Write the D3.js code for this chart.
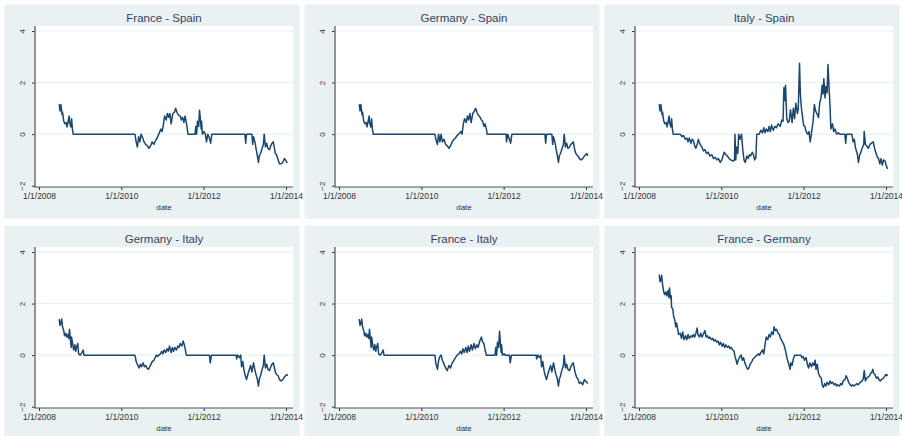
<!DOCTYPE html>
<html><head><meta charset="utf-8">
<script src="https://cdn.jsdelivr.net/npm/d3@7"></script>
<style>body{margin:0;background:#fff}svg{display:block}</style>
</head><body>
<svg id="chart" width="902" height="436"></svg>
<script>
// Panel titles, in drawing order (row by row)
const titles = ["France - Spain", "Germany - Spain", "Italy - Spain",
                "Germany - Italy", "France - Italy", "France - Germany"];

// Axis ticks
const yTicks = [-2, 0, 2, 4];
const xTickYears = [2008, 2010, 2012, 2014];
const gridValues = [0, 2, 4];

// Series: [decimal year, value]
const frSp = [[2008.49,1.16],[2008.51,0.90],[2008.53,1.15],[2008.56,0.75],[2008.57,0.85],[2008.60,0.50],[2008.63,0.40],[2008.66,0.45],[2008.68,0.28],[2008.70,0.45],[2008.73,0.70],[2008.74,0.45],[2008.77,0.28],[2008.79,0.60],[2008.81,0.20],[2008.83,0.00],
  [2010.33,0.00],[2010.36,-0.30],[2010.39,-0.50],[2010.42,-0.10],[2010.45,-0.30],[2010.48,0.00],[2010.51,-0.10],[2010.55,-0.30],[2010.59,-0.40],[2010.63,-0.45],[2010.67,-0.55],[2010.71,-0.45],[2010.75,-0.30],[2010.79,-0.40],[2010.83,-0.25],[2010.87,-0.15],[2010.91,0.00],[2010.96,0.20],[2010.99,0.10],[2011.02,0.35],[2011.05,0.70],[2011.09,0.55],[2011.12,0.80],[2011.15,0.65],[2011.18,0.80],[2011.21,0.40],[2011.25,0.80],[2011.29,0.85],[2011.32,1.00],[2011.35,0.85],[2011.38,0.75],[2011.43,0.70],[2011.46,0.55],[2011.49,0.65],[2011.52,0.45],[2011.55,0.70],[2011.59,0.35],[2011.62,0.00],
  [2011.79,0.00],[2011.81,0.30],[2011.83,0.00],[2011.85,0.50],[2011.88,0.30],[2011.90,0.93],[2011.92,0.60],[2011.94,0.20],[2011.95,0.50],[2011.97,0.00],[2012.01,0.10],[2012.04,0.00],[2012.07,-0.30],[2012.10,0.00],[2012.13,-0.10],[2012.17,-0.35],[2012.20,0.00],
  [2013.00,0.00],[2013.02,-0.35],[2013.04,0.00],[2013.17,0.00],[2013.19,-0.40],[2013.21,-0.10],[2013.25,-0.35],[2013.27,-0.55],[2013.30,-0.80],[2013.33,-1.10],[2013.35,-0.85],[2013.38,-0.75],[2013.42,-0.55],[2013.45,-0.40],[2013.47,0.00],[2013.50,-0.50],[2013.53,-0.35],[2013.56,-0.55],[2013.60,-0.60],[2013.63,-0.45],[2013.66,-0.35],[2013.69,-0.30],[2013.72,-0.55],[2013.74,-0.75],[2013.77,-0.80],[2013.81,-1.00],[2013.84,-1.15],[2013.88,-1.15],[2013.92,-1.10],[2013.96,-0.95],[2013.99,-1.00],[2014.02,-1.10],[2014.04,-1.10]];

const deSp = [[2008.49,1.16],[2008.51,0.90],[2008.53,1.15],[2008.56,0.75],[2008.57,0.85],[2008.60,0.50],[2008.63,0.40],[2008.66,0.45],[2008.68,0.28],[2008.70,0.45],[2008.73,0.70],[2008.74,0.45],[2008.77,0.28],[2008.79,0.60],[2008.81,0.20],[2008.83,0.00],
  [2010.33,0.00],[2010.36,-0.25],[2010.39,-0.40],[2010.42,0.00],[2010.45,-0.30],[2010.48,0.00],[2010.51,-0.30],[2010.55,-0.20],[2010.59,-0.40],[2010.63,-0.45],[2010.67,-0.55],[2010.71,-0.45],[2010.75,-0.30],[2010.79,-0.20],[2010.83,-0.15],[2010.87,-0.05],[2010.91,0.00],[2010.96,0.10],[2010.99,0.00],[2011.02,0.40],[2011.05,0.60],[2011.09,0.45],[2011.12,0.70],[2011.15,0.55],[2011.18,0.80],[2011.21,0.45],[2011.25,0.80],[2011.29,0.90],[2011.32,1.00],[2011.35,0.85],[2011.38,0.75],[2011.43,0.65],[2011.46,0.55],[2011.49,0.50],[2011.52,0.30],[2011.55,0.40],[2011.58,0.20],[2011.60,0.00],
  [2012.06,0.00],[2012.07,-0.30],[2012.10,0.00],[2012.13,-0.15],[2012.17,-0.35],[2012.20,0.00],
  [2013.00,0.00],[2013.02,-0.35],[2013.04,0.00],[2013.17,0.00],[2013.19,-0.40],[2013.21,-0.10],[2013.25,-0.35],[2013.27,-0.55],[2013.30,-0.80],[2013.33,-1.10],[2013.35,-0.85],[2013.38,-0.75],[2013.42,-0.55],[2013.45,-0.40],[2013.47,0.00],[2013.50,-0.50],[2013.53,-0.35],[2013.56,-0.55],[2013.60,-0.50],[2013.63,-0.40],[2013.66,-0.35],[2013.69,-0.30],[2013.72,-0.55],[2013.74,-0.70],[2013.77,-0.80],[2013.81,-0.85],[2013.84,-0.95],[2013.88,-1.00],[2013.92,-0.95],[2013.96,-0.85],[2013.99,-0.80],[2014.02,-0.75],[2014.04,-0.85]];

const itSp = [[2008.49,1.16],[2008.51,0.90],[2008.53,1.15],[2008.56,0.75],[2008.57,0.85],[2008.60,0.50],[2008.63,0.40],[2008.66,0.45],[2008.68,0.28],[2008.70,0.45],[2008.73,0.70],[2008.74,0.45],[2008.77,0.28],[2008.79,0.60],[2008.81,0.20],[2008.83,0.00],
  [2009.00,0.00],[2009.04,-0.10],[2009.08,-0.05],[2009.12,-0.20],[2009.16,-0.15],[2009.19,-0.30],[2009.22,-0.15],[2009.26,-0.35],[2009.29,-0.20],[2009.32,-0.25],[2009.35,-0.45],[2009.38,-0.55],[2009.42,-0.35],[2009.44,-0.20],[2009.47,-0.35],[2009.50,-0.45],[2009.53,-0.50],[2009.56,-0.65],[2009.60,-0.60],[2009.64,-0.75],[2009.68,-0.70],[2009.72,-0.85],[2009.77,-0.80],[2009.81,-0.95],[2009.85,-0.90],[2009.89,-1.00],[2009.93,-0.95],[2009.97,-1.10],[2010.01,-1.00],[2010.04,-0.85],[2010.07,-0.70],[2010.11,-0.80],[2010.15,-0.85],[2010.19,-0.95],[2010.23,-1.00],[2010.28,-1.05],[2010.32,-1.00],
  [2010.33,0.00],[2010.35,-1.00],[2010.37,-0.50],[2010.40,-0.75],[2010.42,0.00],[2010.45,-0.20],[2010.49,0.00],[2010.52,-0.60],[2010.55,-1.00],[2010.58,-1.10],[2010.62,-0.85],[2010.65,-0.95],[2010.68,-0.80],[2010.71,-0.85],[2010.75,-0.70],[2010.78,-0.80],[2010.81,-1.00],[2010.84,-0.90],[2010.86,0.00],[2010.92,0.00],[2010.96,0.15],[2011.00,0.05],[2011.03,0.25],[2011.06,0.05],[2011.09,0.20],[2011.13,0.10],[2011.16,0.30],[2011.19,0.10],[2011.22,0.35],[2011.26,0.15],[2011.30,0.30],[2011.34,0.25],[2011.38,0.40],[2011.43,0.30],[2011.47,0.55],[2011.50,0.50],
  [2011.52,1.80],[2011.54,1.30],[2011.56,1.90],[2011.59,0.60],[2011.62,0.45],[2011.65,0.50],[2011.68,0.95],[2011.72,0.45],[2011.75,1.00],[2011.78,0.60],[2011.81,1.20],[2011.85,0.80],[2011.87,1.00],[2011.90,2.75],[2011.92,1.60],[2011.94,1.10],[2011.97,0.70],[2012.00,0.35],[2012.03,0.30],[2012.06,0.10],[2012.10,0.00],[2012.13,0.10],[2012.16,-0.30],[2012.19,0.05],[2012.23,0.50],[2012.26,1.15],[2012.29,0.90],[2012.32,0.80],[2012.36,0.65],[2012.39,1.20],[2012.42,1.40],[2012.45,1.90],[2012.47,1.55],[2012.49,2.15],[2012.52,1.40],[2012.54,1.85],[2012.57,1.60],[2012.59,2.70],[2012.62,1.70],[2012.64,1.10],[2012.66,0.20],[2012.70,0.40],[2012.73,0.10],[2012.76,0.20],[2012.80,0.00],[2012.84,0.05],[2012.88,0.00],
  [2013.00,0.00],[2013.02,-0.35],[2013.04,0.00],[2013.17,0.00],[2013.20,-0.30],[2013.23,-0.20],[2013.26,-0.55],[2013.30,-0.75],[2013.33,-1.10],[2013.36,-0.80],[2013.39,-0.70],[2013.43,-0.50],[2013.46,-0.40],[2013.47,0.10],[2013.50,-0.40],[2013.53,-0.45],[2013.57,-0.55],[2013.61,-0.40],[2013.65,-0.35],[2013.69,-0.30],[2013.73,-0.60],[2013.76,-0.75],[2013.79,-0.90],[2013.82,-0.95],[2013.85,-1.15],[2013.88,-0.95],[2013.91,-1.20],[2013.94,-1.00],[2013.98,-1.05],[2014.01,-1.25],[2014.04,-1.35]];

const deIt = [[2008.49,1.40],[2008.51,1.15],[2008.53,1.25],[2008.55,1.40],[2008.57,1.10],[2008.60,0.95],[2008.62,0.75],[2008.65,0.85],[2008.67,0.70],[2008.70,0.80],[2008.72,0.65],[2008.74,1.00],[2008.76,0.60],[2008.78,0.30],[2008.79,0.70],[2008.82,0.40],[2008.84,0.20],[2008.87,0.40],[2008.89,0.15],[2008.91,0.30],[2008.94,0.45],[2008.96,0.05],[2009.00,0.00],[2009.04,0.10],[2009.07,0.20],[2009.09,0.00],
  [2010.33,0.00],[2010.36,-0.25],[2010.40,-0.40],[2010.43,-0.50],[2010.46,-0.35],[2010.49,-0.45],[2010.53,-0.30],[2010.56,-0.45],[2010.59,-0.40],[2010.62,-0.50],[2010.66,-0.55],[2010.69,-0.45],[2010.72,-0.35],[2010.75,-0.25],[2010.79,-0.20],[2010.82,-0.10],[2010.85,0.00],[2010.88,-0.05],[2010.91,0.00],[2010.95,0.05],[2010.98,0.15],[2011.01,0.05],[2011.04,0.20],[2011.08,0.10],[2011.11,0.25],[2011.14,0.15],[2011.17,0.35],[2011.21,0.10],[2011.24,0.30],[2011.27,0.15],[2011.30,0.30],[2011.34,0.20],[2011.37,0.35],[2011.40,0.30],[2011.43,0.45],[2011.47,0.35],[2011.50,0.55],[2011.53,0.40],[2011.55,0.25],[2011.58,0.00],
  [2012.14,0.00],[2012.16,-0.30],[2012.19,0.00],[2012.79,0.00],[2012.80,-0.15],[2012.83,0.00],[2012.87,-0.10],[2012.90,0.00],[2012.92,-0.45],[2012.95,-0.25],[2012.98,-0.60],[2013.01,-0.80],[2013.04,-0.95],[2013.08,-0.70],[2013.11,-0.55],[2013.14,-0.40],[2013.17,-0.65],[2013.21,-0.30],[2013.24,-0.55],[2013.27,-0.75],[2013.30,-0.90],[2013.33,-1.20],[2013.35,-0.95],[2013.38,-0.80],[2013.42,-0.55],[2013.45,-0.40],[2013.47,0.00],[2013.50,-0.50],[2013.53,-0.35],[2013.56,-0.55],[2013.60,-0.60],[2013.63,-0.45],[2013.66,-0.35],[2013.69,-0.30],[2013.72,-0.50],[2013.74,-0.65],[2013.77,-0.75],[2013.81,-0.80],[2013.84,-0.95],[2013.88,-1.00],[2013.92,-0.95],[2013.96,-0.85],[2013.99,-0.80],[2014.02,-0.75],[2014.04,-0.80]];

const frIt = [[2008.49,1.40],[2008.51,1.15],[2008.53,1.25],[2008.55,1.40],[2008.57,1.10],[2008.60,0.95],[2008.62,0.75],[2008.65,0.85],[2008.67,0.70],[2008.70,0.80],[2008.72,0.65],[2008.74,1.00],[2008.76,0.60],[2008.78,0.30],[2008.79,0.70],[2008.82,0.40],[2008.84,0.20],[2008.87,0.40],[2008.89,0.15],[2008.91,0.30],[2008.94,0.45],[2008.96,0.05],[2009.00,0.00],[2009.04,0.10],[2009.07,0.20],[2009.09,0.00],
  [2010.33,0.00],[2010.35,-0.30],[2010.39,-0.55],[2010.42,-0.20],[2010.45,-0.05],[2010.48,0.00],[2010.51,-0.20],[2010.55,-0.35],[2010.59,-0.50],[2010.63,-0.60],[2010.67,-0.40],[2010.71,-0.50],[2010.75,-0.30],[2010.79,-0.20],[2010.83,-0.10],[2010.87,0.00],[2010.91,0.05],[2010.95,0.15],[2010.98,0.05],[2011.01,0.25],[2011.04,0.10],[2011.08,0.30],[2011.11,0.10],[2011.14,0.35],[2011.17,0.15],[2011.21,0.40],[2011.24,0.20],[2011.28,0.45],[2011.31,0.25],[2011.35,0.40],[2011.38,0.30],[2011.42,0.55],[2011.46,0.70],[2011.49,0.50],[2011.52,0.45],[2011.55,0.20],[2011.58,0.00],
  [2011.79,0.00],[2011.81,0.30],[2011.83,0.00],[2011.85,0.50],[2011.88,0.30],[2011.90,0.93],[2011.92,0.50],[2011.94,0.10],[2011.95,0.40],[2011.97,0.00],[2012.01,0.05],[2012.04,0.00],[2012.14,0.00],[2012.16,-0.30],[2012.19,0.00],
  [2012.79,0.00],[2012.80,-0.15],[2012.83,0.00],[2012.87,-0.10],[2012.90,0.00],[2012.92,-0.45],[2012.95,-0.25],[2012.98,-0.60],[2013.01,-0.80],[2013.04,-0.95],[2013.08,-0.70],[2013.11,-0.55],[2013.14,-0.40],[2013.17,-0.65],[2013.21,-0.30],[2013.24,-0.55],[2013.27,-0.75],[2013.30,-0.90],[2013.33,-1.20],[2013.35,-0.95],[2013.38,-0.80],[2013.42,-0.55],[2013.45,-0.40],[2013.47,0.00],[2013.50,-0.50],[2013.53,-0.35],[2013.56,-0.55],[2013.60,-0.60],[2013.63,-0.45],[2013.66,-0.35],[2013.69,-0.30],[2013.72,-0.55],[2013.74,-0.70],[2013.77,-0.85],[2013.81,-0.95],[2013.84,-1.10],[2013.88,-1.05],[2013.92,-1.15],[2013.96,-0.95],[2013.99,-1.00],[2014.02,-1.05],[2014.04,-1.10]];

const frDe = [[2008.49,3.12],[2008.51,2.85],[2008.53,2.90],[2008.55,3.10],[2008.57,2.75],[2008.60,2.45],[2008.62,2.35],[2008.65,2.45],[2008.67,2.30],[2008.70,2.50],[2008.72,2.25],[2008.74,2.60],[2008.76,2.20],[2008.78,2.30],[2008.79,1.85],[2008.82,1.80],[2008.84,1.50],[2008.87,1.35],[2008.89,1.10],[2008.91,1.25],[2008.94,1.00],[2008.96,0.80],[2009.00,0.85],[2009.03,0.65],[2009.06,0.90],[2009.09,0.60],[2009.13,0.75],[2009.16,0.60],[2009.19,0.80],[2009.22,0.65],[2009.26,0.75],[2009.29,0.70],[2009.32,0.80],[2009.35,0.70],[2009.38,0.85],[2009.41,1.05],[2009.43,0.80],[2009.47,0.70],[2009.50,0.85],[2009.53,0.70],[2009.56,0.80],[2009.60,0.95],[2009.63,0.70],[2009.66,0.75],[2009.69,0.65],[2009.72,0.70],[2009.76,0.60],[2009.79,0.65],[2009.82,0.55],[2009.85,0.60],[2009.89,0.50],[2009.92,0.55],[2009.95,0.40],[2009.98,0.50],
  [2010.02,0.35],[2010.05,0.45],[2010.08,0.30],[2010.11,0.40],[2010.15,0.30],[2010.18,0.35],[2010.21,0.25],[2010.24,0.30],[2010.28,0.20],[2010.31,0.15],[2010.33,-0.05],[2010.36,-0.20],[2010.38,-0.35],[2010.41,-0.20],[2010.45,-0.05],[2010.48,0.00],[2010.51,-0.20],[2010.54,-0.10],[2010.57,-0.30],[2010.61,-0.45],[2010.64,-0.55],[2010.67,-0.50],[2010.70,-0.35],[2010.74,-0.25],[2010.77,-0.15],[2010.80,-0.10],[2010.83,-0.05],[2010.87,0.00],[2010.90,0.05],[2010.93,0.00],[2010.96,0.10],[2011.00,0.20],[2011.03,0.05],[2011.06,0.40],[2011.09,0.70],[2011.13,0.60],[2011.16,0.80],[2011.19,0.70],[2011.22,0.90],[2011.26,0.80],[2011.28,1.10],[2011.31,0.95],[2011.34,1.00],[2011.38,0.85],[2011.41,0.80],[2011.44,0.65],[2011.47,0.55],[2011.51,0.45],[2011.54,0.30],[2011.57,0.10],[2011.60,-0.15],[2011.64,-0.35],[2011.67,-0.55],[2011.69,-0.30],[2011.72,-0.40],[2011.75,-0.15],[2011.78,0.00],[2011.83,0.00],[2011.88,0.00],[2011.93,0.00],[2011.96,-0.10],[2011.99,-0.05],
  [2012.02,-0.20],[2012.06,-0.10],[2012.09,-0.35],[2012.12,-0.50],[2012.15,-0.30],[2012.19,-0.45],[2012.22,-0.30],[2012.25,-0.40],[2012.28,-0.20],[2012.30,-0.55],[2012.33,-0.35],[2012.36,-0.70],[2012.40,-0.85],[2012.43,-0.90],[2012.45,-1.15],[2012.48,-1.25],[2012.51,-1.10],[2012.54,-1.20],[2012.57,-1.05],[2012.61,-1.15],[2012.64,-1.00],[2012.67,-1.10],[2012.70,-1.05],[2012.74,-1.15],[2012.77,-1.10],[2012.80,-1.20],[2012.83,-1.15],[2012.87,-1.20],[2012.90,-1.10],[2012.93,-1.15],[2012.96,-1.00],
  [2013.00,-0.95],[2013.03,-0.80],[2013.06,-0.90],[2013.09,-1.05],[2013.13,-1.15],[2013.16,-1.20],[2013.19,-1.15],[2013.22,-1.20],[2013.26,-1.15],[2013.29,-1.10],[2013.32,-1.15],[2013.35,-1.10],[2013.38,-1.05],[2013.42,-1.00],[2013.45,-0.90],[2013.47,-0.60],[2013.50,-1.00],[2013.53,-0.90],[2013.56,-0.85],[2013.60,-0.80],[2013.63,-0.70],[2013.66,-0.65],[2013.68,-0.55],[2013.70,-0.70],[2013.73,-0.75],[2013.77,-0.90],[2013.80,-0.85],[2013.83,-0.95],[2013.86,-1.00],[2013.89,-0.95],[2013.93,-0.90],[2013.96,-0.85],[2013.99,-0.75],[2014.02,-0.80],[2014.04,-0.75]];

const series = [frSp, deSp, itSp, deIt, frIt, frDe];

// decimal year -> Date
function toDate(y) {
  const yr = Math.floor(y);
  const a = new Date(yr, 0, 1), b = new Date(yr + 1, 0, 1);
  return new Date(+a + (y - yr) * (b - a));
}

const svg = d3.select("#chart");
const font = "'Liberation Sans', Arial, Helvetica, sans-serif";

const panelW = 300, rowH = 221;
const plot = {left: 35, right: 293, top: 26, bottom: 187};

const x = d3.scaleTime()
  .domain([new Date(2008, 0, 1), new Date(2014, 0, 1)])
  .range([39, 286]);
const y = d3.scaleLinear().domain([-2, 4]).range([185.7, 31]);

const line = d3.line()
  .x(d => x(toDate(d[0])))
  .y(d => y(d[1]));

series.forEach((data, i) => {
  const col = i % 3, row = Math.floor(i / 3);
  const g = svg.append("g").attr("transform", `translate(${col * panelW},${row * rowH})`);

  // graph region
  g.append("rect").attr("x", 4.5).attr("y", 4.5).attr("width", 295).attr("height", 214)
    .attr("fill", "#eaf1f3");
  // plot region
  g.append("rect").attr("x", plot.left).attr("y", plot.top)
    .attr("width", plot.right - plot.left).attr("height", plot.bottom - plot.top)
    .attr("fill", "#ffffff");

  // grid lines
  g.selectAll("line.grid").data(gridValues).join("line").attr("class", "grid")
    .attr("x1", plot.left).attr("x2", plot.right)
    .attr("y1", d => y(d)).attr("y2", d => y(d))
    .attr("stroke", "#e4edf0").attr("stroke-width", 1);

  // title
  g.append("text").attr("x", (plot.left + plot.right) / 2).attr("y", 22)
    .attr("text-anchor", "middle").attr("font-family", font).attr("font-size", 11.5)
    .attr("fill", "#36435f").text(titles[i]);

  // y axis
  const ya = g.append("g").attr("transform", `translate(${plot.left},0)`)
    .call(d3.axisLeft(y).tickValues(yTicks).tickSize(3).tickFormat(d3.format("d")));
  ya.select(".domain").remove();
  ya.selectAll(".tick line").attr("stroke", "#333").attr("stroke-width", 1);
  ya.selectAll(".tick text")
    .attr("font-family", font).attr("font-size", 8).attr("fill", "#333")
    .attr("x", 0).attr("dy", 0).attr("text-anchor", "middle")
    .attr("transform", "translate(-10,0) rotate(-90)");
  g.append("line").attr("x1", plot.left).attr("x2", plot.left)
    .attr("y1", plot.top).attr("y2", plot.bottom)
    .attr("stroke", "#7a7a7a").attr("stroke-width", 1.6);

  // x axis
  const xa = g.append("g").attr("transform", `translate(0,${plot.bottom})`)
    .call(d3.axisBottom(x).tickValues(xTickYears.map(v => new Date(v, 0, 1)))
      .tickSize(3).tickFormat(d3.timeFormat("%-m/%-d/%Y")));
  xa.select(".domain").remove();
  xa.selectAll(".tick line").attr("stroke", "#333").attr("stroke-width", 1);
  xa.selectAll(".tick text").attr("font-family", font).attr("font-size", 8.5)
    .attr("fill", "#333").attr("y", 6);
  g.append("line").attr("x1", plot.left - 0.8).attr("x2", plot.right)
    .attr("y1", plot.bottom).attr("y2", plot.bottom)
    .attr("stroke", "#555").attr("stroke-width", 1.2);

  g.append("text").attr("x", (plot.left + plot.right) / 2).attr("y", 210)
    .attr("text-anchor", "middle").attr("font-family", font).attr("font-size", 8)
    .attr("fill", "#333").text("date");

  // series line
  g.append("path").datum(data).attr("d", line)
    .attr("fill", "none").attr("stroke", "#1a476f").attr("stroke-width", 1.5)
    .attr("stroke-linejoin", "round");
});
</script>
</body></html>
